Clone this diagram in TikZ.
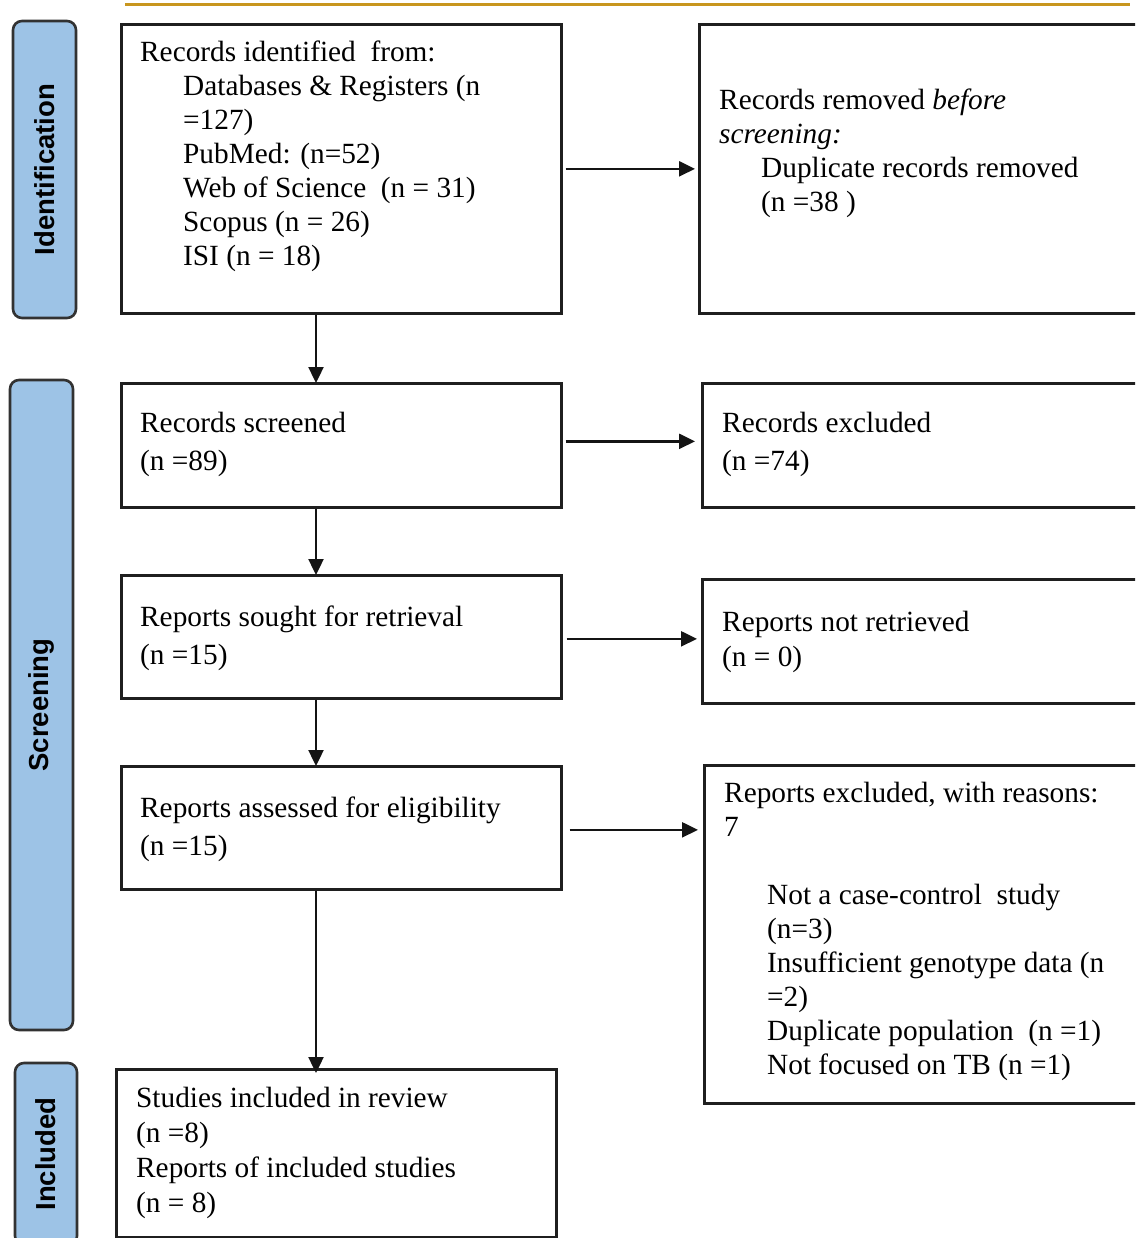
\documentclass[tikz,border=0pt]{standalone}
\usepackage{fontspec}
\setmainfont{Liberation Serif}
\newfontfamily\labfont{Liberation Sans}
\usetikzlibrary{arrows.meta,calc}
\definecolor{goldline}{RGB}{200,150,30}
\definecolor{labblue}{RGB}{157,195,230}
\definecolor{labedge}{RGB}{50,50,50}
\begin{document}
\begin{tikzpicture}[x=1pt,y=-1pt,
  box/.style={draw=black!88, line width=2.7pt, anchor=north west, inner sep=0pt},
  lab/.style={draw=labedge, fill=labblue, line width=2.6pt, rounded corners=9pt, rotate=90,
    font=\labfont\bfseries\fontsize{27.5}{30}\selectfont, inner sep=0pt},
  txt/.style={anchor=base west, inner sep=0pt, font=\fontsize{29.3}{34}\selectfont},
  wide/.style={font=\fontsize{29.3}{38}\selectfont},
  arr/.style={line width=2.4pt, draw=black!92, -{Triangle[length=16pt,width=15pt]}}]
\useasboundingbox (0,0) rectangle (1135,1238);
\clip (0,0) rectangle (1135,1238);
\fill[white] (0,0) rectangle (1135,1238);

% top rule
\coordinate (g1) at (125,5);
\coordinate (g2) at (1130,5);
\draw[goldline, line width=3pt] (g1) -- (g2);

% phase labels
\node[lab, minimum width=297pt, minimum height=63pt] (L1) at (44.5,169.5) {Identification};
\node[lab, minimum width=650pt, minimum height=63pt] (L2) at (41.5,705) {Screening};
\node[lab, minimum width=182pt, minimum height=62pt] (L3) at (46,1154) {Included};

% boxes
\node[box, minimum width=440pt, minimum height=289pt] (b1) at (120,23) {};
\node[box, minimum width=450pt, minimum height=289pt] (r1) at (698,23) {};
\node[box, minimum width=440pt, minimum height=124pt] (b2) at (120,382) {};
\node[box, minimum width=450pt, minimum height=124pt] (r2) at (701,382) {};
\node[box, minimum width=440pt, minimum height=123pt] (b3) at (120,574) {};
\node[box, minimum width=450pt, minimum height=124pt] (r3) at (701,578) {};
\node[box, minimum width=440pt, minimum height=123pt] (b4) at (120,765) {};
\node[box, minimum width=450pt, minimum height=338pt] (r4) at (703,764) {};
\node[box, minimum width=440pt, minimum height=168pt] (b5) at (115,1068) {};

% texts
\node[txt] (t1) at (140,62) {\begin{tabular}[t]{@{}l@{}}
Records identified\ \ from:\\
\hspace*{43pt}Databases \& Registers (n\\
\hspace*{43pt}=127)\\
\hspace*{43pt}PubMed: (n=52)\\
\hspace*{43pt}Web of Science\ \ (n = 31)\\
\hspace*{43pt}Scopus (n = 26)\\
\hspace*{43pt}ISI (n = 18)
\end{tabular}};

\node[txt] (s1) at (719,110) {\begin{tabular}[t]{@{}l@{}}
Records removed \textit{before}\\
\textit{screening:}\\
\hspace*{42pt}Duplicate records removed\\
\hspace*{42pt}(n =38 )
\end{tabular}};

\node[txt, wide] (t2) at (140,432) {\begin{tabular}[t]{@{}l@{}}
Records screened\\
(n =89)
\end{tabular}};

\node[txt, wide] (s2) at (722,432) {\begin{tabular}[t]{@{}l@{}}
Records excluded\\
(n =74)
\end{tabular}};

\node[txt, wide] (t3) at (140,626) {\begin{tabular}[t]{@{}l@{}}
Reports sought for retrieval\\
(n =15)
\end{tabular}};

\node[txt, font=\fontsize{29.3}{35}\selectfont] (s3) at (722,631) {\begin{tabular}[t]{@{}l@{}}
Reports not retrieved\\
(n = 0)
\end{tabular}};

\node[txt, wide] (t4) at (140,817) {\begin{tabular}[t]{@{}l@{}}
Reports assessed for eligibility\\
(n =15)
\end{tabular}};

\node[txt] (s4) at (724,802) {\begin{tabular}[t]{@{}l@{}}
Reports excluded, with reasons:\\
7\\
\\
\hspace*{43pt}Not a case-control\ \ study\\
\hspace*{43pt}(n=3)\\
\hspace*{43pt}Insufficient genotype data (n\\
\hspace*{43pt}=2)\\
\hspace*{43pt}Duplicate population\ \ (n =1)\\
\hspace*{43pt}Not focused on TB (n =1)
\end{tabular}};

\node[txt, font=\fontsize{29.3}{35}\selectfont] (t5) at (136,1107) {\begin{tabular}[t]{@{}l@{}}
Studies included in review\\
(n =8)\\
Reports of included studies\\
(n = 8)
\end{tabular}};

% connectors
\coordinate (col) at (316,0);
\draw[arr] (b1.south -| col) -- ([yshift=-1pt]b2.north -| col);
\draw[arr] (b2.south -| col) -- ([yshift=-1pt]b3.north -| col);
\draw[arr] (b3.south -| col) -- ([yshift=-1pt]b4.north -| col);
\draw[arr] (b4.south -| col) -- ([yshift=-5pt]b5.north -| col);

\draw[arr] ([xshift=3pt]b1.east) -- ([xshift=-3pt]b1.east -| r1.west);
\draw[arr] ([xshift=3pt,yshift=4pt]b2.east) -- ([xshift=-6pt,yshift=4pt]b2.east -| r2.west);
\draw[arr] ([xshift=4pt,yshift=-2pt]b3.east) -- ([xshift=-4pt,yshift=-2pt]b3.east -| r3.west);
\draw[arr] ([xshift=7pt,yshift=-2pt]b4.east) -- ([xshift=-5pt,yshift=-2pt]b4.east -| r4.west);
\end{tikzpicture}
\end{document}
